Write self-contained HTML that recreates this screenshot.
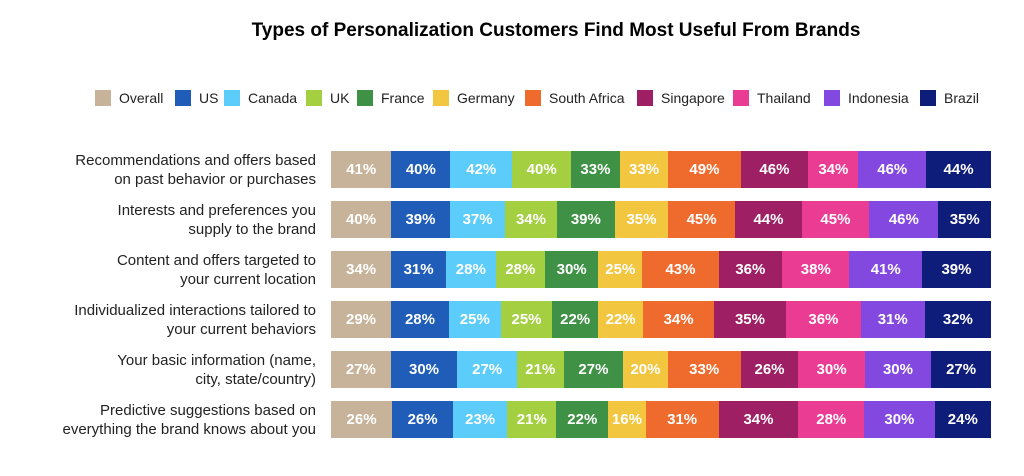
<!DOCTYPE html>
<html><head><style>
body{margin:0;width:1024px;height:476px;background:#fff;font-family:"Liberation Sans",Arial,sans-serif;position:relative;overflow:hidden}
.t{position:absolute;top:20px;left:0;width:1112px;text-align:center;font-weight:bold;font-size:19px;color:#000}
.lg{position:absolute;top:90px;font-size:14px;color:#222;display:flex;align-items:center;height:16px}
.lg i{display:inline-block;width:16px;height:16px;margin-right:8px}
.row{position:absolute;left:331px;width:660px;height:37px;display:flex}
.row div{display:flex;align-items:center;justify-content:center;color:#fff;font-weight:bold;font-size:15px;flex-basis:0}
.lab{position:absolute;right:708px;text-align:right;font-size:15px;line-height:19px;color:#222}
.a{background:#c6b39a}.b{background:#1f5db8}.c{background:#5ccdfa}.d{background:#a3cf40}.e{background:#3f9145}.f{background:#f3c640}.g{background:#ef6b2d}.h{background:#9e1f63}.k{background:#eb3c94}.m{background:#8348e0}.n{background:#0f1d7a}
</style></head><body>
<div class="t">Types of Personalization Customers Find Most Useful From Brands</div>
<div class="lg" style="left:95px"><i class="a"></i>Overall</div>
<div class="lg" style="left:175px"><i class="b"></i>US</div>
<div class="lg" style="left:224px"><i class="c"></i>Canada</div>
<div class="lg" style="left:306px"><i class="d"></i>UK</div>
<div class="lg" style="left:357px"><i class="e"></i>France</div>
<div class="lg" style="left:433px"><i class="f"></i>Germany</div>
<div class="lg" style="left:525px"><i class="g"></i>South Africa</div>
<div class="lg" style="left:637px"><i class="h"></i>Singapore</div>
<div class="lg" style="left:733px"><i class="k"></i>Thailand</div>
<div class="lg" style="left:824px"><i class="m"></i>Indonesia</div>
<div class="lg" style="left:920px"><i class="n"></i>Brazil</div>

<div class="lab" style="top:151px">Recommendations and offers based<br>on past behavior or purchases</div>
<div class="lab" style="top:201px">Interests and preferences you<br>supply to the brand</div>
<div class="lab" style="top:251px">Content and offers targeted to<br>your current location</div>
<div class="lab" style="top:301px">Individualized interactions tailored to<br>your current behaviors</div>
<div class="lab" style="top:351px">Your basic information (name,<br>city, state/country)</div>
<div class="lab" style="top:401px">Predictive suggestions based on<br>everything the brand knows about you</div>

<div class="row" style="top:151px"><div class="a" style="flex-grow:41">41%</div><div class="b" style="flex-grow:40">40%</div><div class="c" style="flex-grow:42">42%</div><div class="d" style="flex-grow:40">40%</div><div class="e" style="flex-grow:33">33%</div><div class="f" style="flex-grow:33">33%</div><div class="g" style="flex-grow:49">49%</div><div class="h" style="flex-grow:46">46%</div><div class="k" style="flex-grow:34">34%</div><div class="m" style="flex-grow:46">46%</div><div class="n" style="flex-grow:44">44%</div></div>
<div class="row" style="top:201px"><div class="a" style="flex-grow:40">40%</div><div class="b" style="flex-grow:39">39%</div><div class="c" style="flex-grow:37">37%</div><div class="d" style="flex-grow:34">34%</div><div class="e" style="flex-grow:39">39%</div><div class="f" style="flex-grow:35">35%</div><div class="g" style="flex-grow:45">45%</div><div class="h" style="flex-grow:44">44%</div><div class="k" style="flex-grow:45">45%</div><div class="m" style="flex-grow:46">46%</div><div class="n" style="flex-grow:35">35%</div></div>
<div class="row" style="top:251px"><div class="a" style="flex-grow:34">34%</div><div class="b" style="flex-grow:31">31%</div><div class="c" style="flex-grow:28">28%</div><div class="d" style="flex-grow:28">28%</div><div class="e" style="flex-grow:30">30%</div><div class="f" style="flex-grow:25">25%</div><div class="g" style="flex-grow:43">43%</div><div class="h" style="flex-grow:36">36%</div><div class="k" style="flex-grow:38">38%</div><div class="m" style="flex-grow:41">41%</div><div class="n" style="flex-grow:39">39%</div></div>
<div class="row" style="top:301px"><div class="a" style="flex-grow:29">29%</div><div class="b" style="flex-grow:28">28%</div><div class="c" style="flex-grow:25">25%</div><div class="d" style="flex-grow:25">25%</div><div class="e" style="flex-grow:22">22%</div><div class="f" style="flex-grow:22">22%</div><div class="g" style="flex-grow:34">34%</div><div class="h" style="flex-grow:35">35%</div><div class="k" style="flex-grow:36">36%</div><div class="m" style="flex-grow:31">31%</div><div class="n" style="flex-grow:32">32%</div></div>
<div class="row" style="top:351px"><div class="a" style="flex-grow:27">27%</div><div class="b" style="flex-grow:30">30%</div><div class="c" style="flex-grow:27">27%</div><div class="d" style="flex-grow:21">21%</div><div class="e" style="flex-grow:27">27%</div><div class="f" style="flex-grow:20">20%</div><div class="g" style="flex-grow:33">33%</div><div class="h" style="flex-grow:26">26%</div><div class="k" style="flex-grow:30">30%</div><div class="m" style="flex-grow:30">30%</div><div class="n" style="flex-grow:27">27%</div></div>
<div class="row" style="top:401px"><div class="a" style="flex-grow:26">26%</div><div class="b" style="flex-grow:26">26%</div><div class="c" style="flex-grow:23">23%</div><div class="d" style="flex-grow:21">21%</div><div class="e" style="flex-grow:22">22%</div><div class="f" style="flex-grow:16">16%</div><div class="g" style="flex-grow:31">31%</div><div class="h" style="flex-grow:34">34%</div><div class="k" style="flex-grow:28">28%</div><div class="m" style="flex-grow:30">30%</div><div class="n" style="flex-grow:24">24%</div></div>
</body></html>
